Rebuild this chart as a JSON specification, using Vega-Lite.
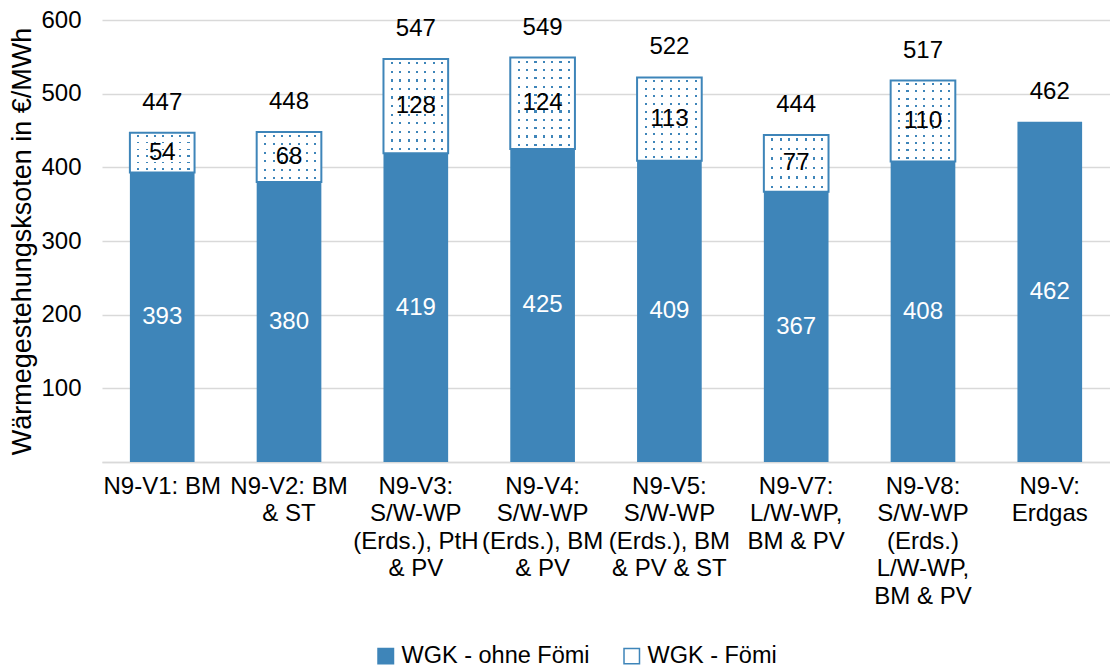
{
  "$schema": "https://vega.github.io/schema/vega-lite/v6.json",
  "width": 1008,
  "height": 442,
  "autosize": {"type": "none"},
  "padding": {"left": 102, "top": 20, "right": 0, "bottom": 206},
  "background": "white",
  "config": {"view": {"stroke": null}, "font": "Liberation Sans"},
  "data": {"values": [
    {"cat": "N9-V1: BM", "serie": "WGK - ohne Fömi", "value": 393, "total": 447},
    {"cat": "N9-V1: BM", "serie": "WGK - Fömi", "value": 54, "total": 447},
    {"cat": "N9-V2: BM\n& ST", "serie": "WGK - ohne Fömi", "value": 380, "total": 448},
    {"cat": "N9-V2: BM\n& ST", "serie": "WGK - Fömi", "value": 68, "total": 448},
    {"cat": "N9-V3:\nS/W-WP\n(Erds.), PtH\n& PV", "serie": "WGK - ohne Fömi", "value": 419, "total": 547},
    {"cat": "N9-V3:\nS/W-WP\n(Erds.), PtH\n& PV", "serie": "WGK - Fömi", "value": 128, "total": 547},
    {"cat": "N9-V4:\nS/W-WP\n(Erds.), BM\n& PV", "serie": "WGK - ohne Fömi", "value": 425, "total": 549},
    {"cat": "N9-V4:\nS/W-WP\n(Erds.), BM\n& PV", "serie": "WGK - Fömi", "value": 124, "total": 549},
    {"cat": "N9-V5:\nS/W-WP\n(Erds.), BM\n& PV & ST", "serie": "WGK - ohne Fömi", "value": 409, "total": 522},
    {"cat": "N9-V5:\nS/W-WP\n(Erds.), BM\n& PV & ST", "serie": "WGK - Fömi", "value": 113, "total": 522},
    {"cat": "N9-V7:\nL/W-WP,\nBM & PV", "serie": "WGK - ohne Fömi", "value": 367, "total": 444},
    {"cat": "N9-V7:\nL/W-WP,\nBM & PV", "serie": "WGK - Fömi", "value": 77, "total": 444},
    {"cat": "N9-V8:\nS/W-WP\n(Erds.)\nL/W-WP,\nBM & PV", "serie": "WGK - ohne Fömi", "value": 408, "total": 517},
    {"cat": "N9-V8:\nS/W-WP\n(Erds.)\nL/W-WP,\nBM & PV", "serie": "WGK - Fömi", "value": 110, "total": 517},
    {"cat": "N9-V:\nErdgas", "serie": "WGK - ohne Fömi", "value": 462, "total": 462}
  ]},
  "transform": [
    {"stack": "value", "groupby": ["cat"], "sort": [{"field": "serie", "order": "descending"}], "as": ["v0", "v1"]},
    {"calculate": "(datum.v0 + datum.v1) / 2", "as": "mid"}
  ],
  "encoding": {
    "x": {
      "field": "cat", "type": "nominal", "sort": null,
      "scale": {"paddingInner": 0.49, "paddingOuter": 0.22},
      "axis": {
        "title": null, "labelAngle": 0, "labelFontSize": 24, "labelColor": "#000000",
        "labelLineHeight": 27.5, "labelExpr": "split(datum.label, '\\n')",
        "labelPadding": 12, "labelOverlap": false, "labelBound": false, "labelLimit": 0,
        "ticks": false, "domain": true, "domainColor": "#D9D9D9", "domainWidth": 1.5, "grid": false
      }
    }
  },
  "layer": [
    {
      "mark": {"type": "bar", "strokeWidth": 0},
      "encoding": {
        "y": {
          "field": "v1", "type": "quantitative",
          "scale": {"domain": [0, 600], "nice": false},
          "axis": {
            "title": "Wärmegestehungsksoten in €/MWh", "titleFontSize": 27, "titleFontWeight": "normal",
            "titleColor": "#000000", "titleX": -80, "titleY": 221, "titleBaseline": "middle", "titleAlign": "center", "titleAngle": -90,
            "values": [0, 100, 200, 300, 400, 500, 600],
            "labelExpr": "datum.value == 0 ? '' : datum.label",
            "labelFontSize": 24, "labelColor": "#000000", "labelPadding": 21,
            "ticks": false, "domain": false, "grid": true, "gridColor": "#D9D9D9", "gridWidth": 1.5
          }
        },
        "y2": {"field": "v0"},
        "fill": {
          "field": "serie", "type": "nominal",
          "scale": {"domain": ["WGK - ohne Fömi", "WGK - Fömi"], "range": ["#3E85B9", "#FFFFFF"]},
          "legend": {
            "title": null, "orient": "none", "legendX": 272, "legendY": 624, "direction": "horizontal",
            "symbolType": "square", "symbolSize": 240, "symbolStrokeColor": "#3E85B9", "symbolStrokeWidth": 1.5,
            "labelFontSize": 23.5, "labelColor": "#000000", "labelOffset": 4, "columnPadding": 30, "padding": 0,
            "labelLimit": 0
          }
        }
      }
    },
    {
      "transform": [{"filter": "datum.serie == 'WGK - Fömi'"}],
      "mark": {
        "type": "bar",
        "fill": {
          "gradient": "linear", "x1": 0, "y1": 0, "x2": 1, "y2": 0,
          "stops": [
            {"offset": 0, "color": "#FFFFFF"}, {"offset": 0.116, "color": "#FFFFFF"},
            {"offset": 0.116, "color": "#3E85B9"}, {"offset": 0.148, "color": "#3E85B9"},
            {"offset": 0.148, "color": "#FFFFFF"}, {"offset": 0.245, "color": "#FFFFFF"},
            {"offset": 0.245, "color": "#3E85B9"}, {"offset": 0.277, "color": "#3E85B9"},
            {"offset": 0.277, "color": "#FFFFFF"}, {"offset": 0.374, "color": "#FFFFFF"},
            {"offset": 0.374, "color": "#3E85B9"}, {"offset": 0.406, "color": "#3E85B9"},
            {"offset": 0.406, "color": "#FFFFFF"}, {"offset": 0.503, "color": "#FFFFFF"},
            {"offset": 0.503, "color": "#3E85B9"}, {"offset": 0.535, "color": "#3E85B9"},
            {"offset": 0.535, "color": "#FFFFFF"}, {"offset": 0.632, "color": "#FFFFFF"},
            {"offset": 0.632, "color": "#3E85B9"}, {"offset": 0.664, "color": "#3E85B9"},
            {"offset": 0.664, "color": "#FFFFFF"}, {"offset": 0.761, "color": "#FFFFFF"},
            {"offset": 0.761, "color": "#3E85B9"}, {"offset": 0.793, "color": "#3E85B9"},
            {"offset": 0.793, "color": "#FFFFFF"}, {"offset": 0.890, "color": "#FFFFFF"},
            {"offset": 0.890, "color": "#3E85B9"}, {"offset": 0.922, "color": "#3E85B9"},
            {"offset": 0.922, "color": "#FFFFFF"}, {"offset": 1, "color": "#FFFFFF"}
          ]
        }
      },
      "encoding": {
        "y": {"field": "v1", "type": "quantitative"},
        "y2": {"field": "v0"}
      }
    },
    {
      "transform": [{"filter": "datum.serie == 'WGK - Fömi'"}],
      "mark": {"type": "bar"},
      "encoding": {
        "y": {"field": "v1", "type": "quantitative"},
        "y2": {"field": "v0"},
        "fill": {
          "condition": {
            "test": "datum.value < 90",
            "value": {
              "gradient": "linear", "x1": 0, "y1": 0, "x2": 0, "y2": 1,
              "stops": [
                {"offset": 0, "color": "#FFFFFF"}, {"offset": 0.063, "color": "#FFFFFF"},
                {"offset": 0.063, "color": "rgba(255,255,255,0)"}, {"offset": 0.103, "color": "rgba(255,255,255,0)"},
                {"offset": 0.103, "color": "#FFFFFF"}, {"offset": 0.23, "color": "#FFFFFF"},
                {"offset": 0.23, "color": "rgba(255,255,255,0)"}, {"offset": 0.27, "color": "rgba(255,255,255,0)"},
                {"offset": 0.27, "color": "#FFFFFF"}, {"offset": 0.397, "color": "#FFFFFF"},
                {"offset": 0.397, "color": "rgba(255,255,255,0)"}, {"offset": 0.437, "color": "rgba(255,255,255,0)"},
                {"offset": 0.437, "color": "#FFFFFF"}, {"offset": 0.563, "color": "#FFFFFF"},
                {"offset": 0.563, "color": "rgba(255,255,255,0)"}, {"offset": 0.603, "color": "rgba(255,255,255,0)"},
                {"offset": 0.603, "color": "#FFFFFF"}, {"offset": 0.73, "color": "#FFFFFF"},
                {"offset": 0.73, "color": "rgba(255,255,255,0)"}, {"offset": 0.77, "color": "rgba(255,255,255,0)"},
                {"offset": 0.77, "color": "#FFFFFF"}, {"offset": 0.897, "color": "#FFFFFF"},
                {"offset": 0.897, "color": "rgba(255,255,255,0)"}, {"offset": 0.937, "color": "rgba(255,255,255,0)"},
                {"offset": 0.937, "color": "#FFFFFF"}, {"offset": 1, "color": "#FFFFFF"}
              ]
            }
          },
          "value": {
            "gradient": "linear", "x1": 0, "y1": 0, "x2": 0, "y2": 1,
            "stops": [
              {"offset": 0, "color": "#FFFFFF"}, {"offset": 0.033, "color": "#FFFFFF"},
              {"offset": 0.033, "color": "rgba(255,255,255,0)"}, {"offset": 0.057, "color": "rgba(255,255,255,0)"},
              {"offset": 0.057, "color": "#FFFFFF"}, {"offset": 0.124, "color": "#FFFFFF"},
              {"offset": 0.124, "color": "rgba(255,255,255,0)"}, {"offset": 0.148, "color": "rgba(255,255,255,0)"},
              {"offset": 0.148, "color": "#FFFFFF"}, {"offset": 0.215, "color": "#FFFFFF"},
              {"offset": 0.215, "color": "rgba(255,255,255,0)"}, {"offset": 0.239, "color": "rgba(255,255,255,0)"},
              {"offset": 0.239, "color": "#FFFFFF"}, {"offset": 0.306, "color": "#FFFFFF"},
              {"offset": 0.306, "color": "rgba(255,255,255,0)"}, {"offset": 0.330, "color": "rgba(255,255,255,0)"},
              {"offset": 0.330, "color": "#FFFFFF"}, {"offset": 0.397, "color": "#FFFFFF"},
              {"offset": 0.397, "color": "rgba(255,255,255,0)"}, {"offset": 0.421, "color": "rgba(255,255,255,0)"},
              {"offset": 0.421, "color": "#FFFFFF"}, {"offset": 0.488, "color": "#FFFFFF"},
              {"offset": 0.488, "color": "rgba(255,255,255,0)"}, {"offset": 0.512, "color": "rgba(255,255,255,0)"},
              {"offset": 0.512, "color": "#FFFFFF"}, {"offset": 0.579, "color": "#FFFFFF"},
              {"offset": 0.579, "color": "rgba(255,255,255,0)"}, {"offset": 0.603, "color": "rgba(255,255,255,0)"},
              {"offset": 0.603, "color": "#FFFFFF"}, {"offset": 0.670, "color": "#FFFFFF"},
              {"offset": 0.670, "color": "rgba(255,255,255,0)"}, {"offset": 0.694, "color": "rgba(255,255,255,0)"},
              {"offset": 0.694, "color": "#FFFFFF"}, {"offset": 0.761, "color": "#FFFFFF"},
              {"offset": 0.761, "color": "rgba(255,255,255,0)"}, {"offset": 0.785, "color": "rgba(255,255,255,0)"},
              {"offset": 0.785, "color": "#FFFFFF"}, {"offset": 0.852, "color": "#FFFFFF"},
              {"offset": 0.852, "color": "rgba(255,255,255,0)"}, {"offset": 0.876, "color": "rgba(255,255,255,0)"},
              {"offset": 0.876, "color": "#FFFFFF"}, {"offset": 0.943, "color": "#FFFFFF"},
              {"offset": 0.943, "color": "rgba(255,255,255,0)"}, {"offset": 0.967, "color": "rgba(255,255,255,0)"},
              {"offset": 0.967, "color": "#FFFFFF"}, {"offset": 1, "color": "#FFFFFF"}
            ]
          }
        }
      }
    },
    {
      "transform": [{"filter": "datum.serie == 'WGK - Fömi'"}],
      "mark": {"type": "bar", "fillOpacity": 0, "stroke": "#3E85B9", "strokeWidth": 2},
      "encoding": {
        "y": {"field": "v1", "type": "quantitative"},
        "y2": {"field": "v0"}
      }
    },
    {
      "transform": [{"filter": "datum.serie == 'WGK - ohne Fömi'"}],
      "mark": {"type": "text", "fontSize": 24, "color": "#FFFFFF", "baseline": "middle"},
      "encoding": {
        "y": {"field": "mid", "type": "quantitative"},
        "text": {"field": "value", "type": "quantitative"}
      }
    },
    {
      "transform": [{"filter": "datum.serie == 'WGK - Fömi'"}],
      "mark": {"type": "text", "fontSize": 24, "color": "#000000", "baseline": "middle"},
      "encoding": {
        "y": {"field": "mid", "type": "quantitative"},
        "text": {"field": "value", "type": "quantitative"}
      }
    },
    {
      "transform": [{"filter": "datum.serie == 'WGK - ohne Fömi'"}],
      "mark": {"type": "text", "fontSize": 24, "color": "#000000", "baseline": "middle", "dy": -30},
      "encoding": {
        "y": {"field": "total", "type": "quantitative"},
        "text": {"field": "total", "type": "quantitative"}
      }
    }
  ]
}
